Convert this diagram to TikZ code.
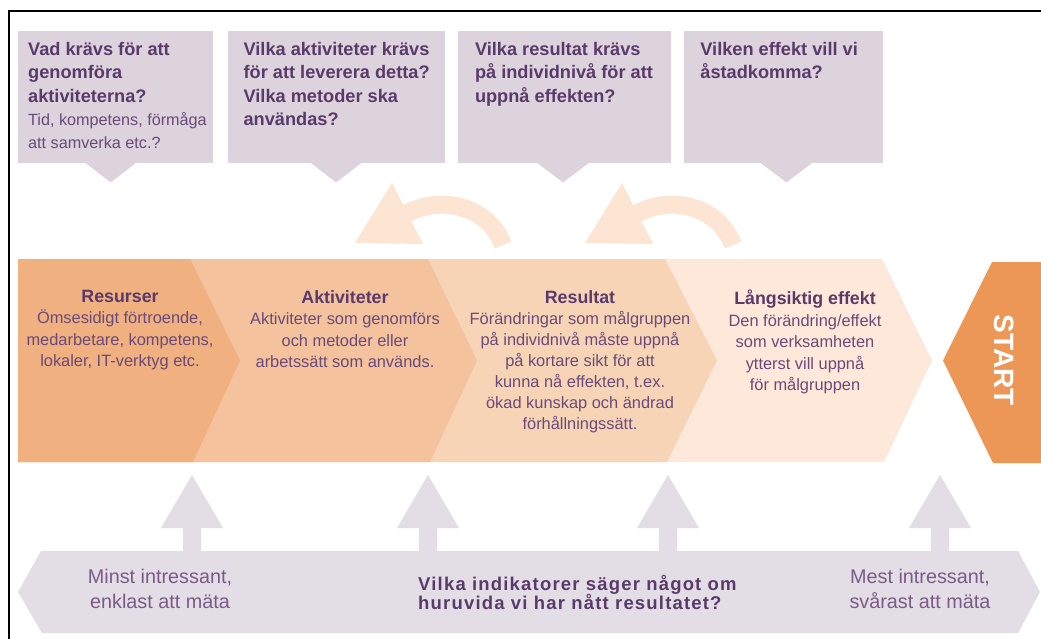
\documentclass[tikz,border=0pt]{standalone}
\usepackage{fontspec}
\setmainfont{Liberation Sans}
\newfontfamily\sparrad[LetterSpace=6.4]{Liberation Sans}
\usetikzlibrary{calc, positioning}
\definecolor{lila}{HTML}{DCD3DD}
\definecolor{lilaljus}{HTML}{E3DDE6}
\definecolor{plommon}{HTML}{5A3A6A}
\definecolor{plommonm}{HTML}{6A4A79}
\definecolor{plommonl}{HTML}{7C5A88}
\definecolor{oranger}{HTML}{ED9757}
\definecolor{steg1}{HTML}{F0B07F}
\definecolor{steg2}{HTML}{F4C29D}
\definecolor{steg3}{HTML}{F8D4B7}
\definecolor{steg4}{HTML}{FDE8DA}
\definecolor{bage}{HTML}{FCE5D2}
\newcommand{\rubrik}[1]{{\fontsize{17.8}{21.6}\selectfont\bfseries\color{plommon}#1}}

\begin{document}
\begin{tikzpicture}[x=1pt, y=-1pt,
        fraga/.style={fill=lila, minimum height=132, anchor=north west},
        fragtext/.style={anchor=north west, align=left, text=plommon, font=\fontsize{18.2}{23.4}\selectfont\bfseries},
        stegtext/.style={anchor=north, align=center, text=plommonm, font=\fontsize{16.4}{21.5}\selectfont},
        matttext/.style={anchor=north, align=center, text=plommonl, font=\fontsize{19.8}{25}\selectfont},
        uppil/.style={fill=lilaljus},
        returpil/.style={draw=bage, line width=18pt}]
    \tikzstyle{every node}=[inner sep=0pt]
    \useasboundingbox (0,0) rectangle (1041,639);
    \clip (0,0) rectangle (1041,639);
    \fill[white] (0,0) rectangle (1041,639);
    \draw[line width=2pt] (9,11) rectangle (1060,660);

    \node[fraga, minimum width=195] (fraga1) at (18,31) {};
    \node[fraga, minimum width=217, right=14pt of fraga1] (fraga2) {};
    \node[fraga, minimum width=213, right=13pt of fraga2] (fraga3) {};
    \node[fraga, minimum width=199, right=13pt of fraga3] (fraga4) {};
    \fill[lila] ($(fraga1.south)+(-31,-1)$) -- ++(52,0) -- ($(fraga1.south)+(-5,19)$) -- cycle;
    \fill[lila] ($(fraga2.south)+(-26,-1)$) -- ++(52,0) -- ($(fraga2.south)+(0,19)$) -- cycle;
    \fill[lila] ($(fraga3.south)+(-28,-1)$) -- ++(53,0) -- ($(fraga3.south)+(-1.5,19)$) -- cycle;
    \fill[lila] ($(fraga4.south)+(-24,-1)$) -- ++(53,0) -- ($(fraga4.south)+(2.5,19)$) -- cycle;
    \node[fragtext] (fragtext1) at ($(fraga1.north west)+(10,11)$) {Vad krävs för att\\genomföra\\aktiviteterna?\\{\fontsize{16.2}{23.4}\selectfont\mdseries\color{plommonm}Tid, kompetens, förmåga}\\{\fontsize{16.2}{23.4}\selectfont\mdseries\color{plommonm}att samverka etc.?}};
    \node[fragtext] (fragtext2) at ($(fraga2.north west)+(16,11)$) {Vilka aktiviteter krävs\\för att leverera detta?\\Vilka metoder ska\\användas?};
    \node[fragtext] (fragtext3) at ($(fraga3.north west)+(17,11)$) {Vilka resultat krävs\\på individnivå för att\\uppnå effekten?};
    \node[fragtext] (fragtext4) at ($(fraga4.north west)+(16,11)$) {Vilken effekt vill vi\\åstadkomma?};

    \fill[bage] (392,183) -- (355,243) -- (423,244) -- cycle;
    \draw[returpil] (503,245) .. controls (488,205) and (440,195) .. (406,214);
    \fill[bage] (622,183) -- (585,243) -- (653,244) -- cycle;
    \draw[returpil] (733,245) .. controls (718,205) and (670,195) .. (636,214);

    \fill[steg4] (18,259) -- (882,259) -- (932,360.5) -- (884,462) -- (18,462) -- cycle;
    \fill[steg3] (18,259) -- (665,259) -- (717,360.5) -- (667,462) -- (18,462) -- cycle;
    \fill[steg2] (18,259) -- (428,259) -- (477,360.5) -- (430,462) -- (18,462) -- cycle;
    \fill[steg1] (18,259) -- (190,259) -- (240,360.5) -- (193,462) -- (18,462) -- cycle;
    \node[stegtext] (resurser) at (120,290) {\rubrik{Resurser}\\Ömsesidigt förtroende,\\medarbetare, kompetens,\\lokaler, IT-verktyg etc.};
    \node[stegtext] (aktiviteter) at (345,290) {\rubrik{Aktiviteter}\\Aktiviteter som genomförs\\och metoder eller\\arbetssätt som används.};
    \node[stegtext, font=\fontsize{16.4}{21.1}\selectfont] (resultat) at (580,290) {\rubrik{Resultat}\\Förändringar som målgruppen\\på individnivå måste uppnå\\på kortare sikt för att\\kunna nå effekten, t.ex.\\ökad kunskap och ändrad\\förhållningssätt.};
    \node[stegtext] (effekt) at (805,290) {\rubrik{Långsiktig effekt}\\Den förändring/effekt\\som verksamheten\\ytterst vill uppnå\\för målgruppen};

    \fill[oranger] (943,360.5) -- (992,262) -- (1050,262) -- (1050,463) -- (993,463) -- cycle;
    \node[rotate=-90, text=white, font=\fontsize{28}{28}\selectfont\bfseries] (start) at (1004,360) {START};

    \fill[uppil] (192,475) -- ++(31,53) -- ++(-22,0) -- ++(0,24) -- ++(-18,0) -- ++(0,-24) -- ++(-22,0) -- cycle;
    \fill[uppil] (428,475) -- ++(31,53) -- ++(-22,0) -- ++(0,24) -- ++(-18,0) -- ++(0,-24) -- ++(-22,0) -- cycle;
    \fill[uppil] (668,475) -- ++(31,53) -- ++(-22,0) -- ++(0,24) -- ++(-18,0) -- ++(0,-24) -- ++(-22,0) -- cycle;
    \fill[uppil] (940,475) -- ++(31,53) -- ++(-22,0) -- ++(0,24) -- ++(-18,0) -- ++(0,-24) -- ++(-22,0) -- cycle;
    \fill[lilaljus] (18,592) -- (41,551) -- (1018,551) -- (1040,592) -- (1018,633) -- (42,633) -- cycle;
    \node[matttext] (minst) at (160,569) {Minst intressant,\\enklast att mäta};
    \node[anchor=north west, align=left, text=plommon, font=\fontsize{18.5}{19.4}\sparrad\bfseries] (indikatorer) at (418,575) {Vilka indikatorer säger något om\\huruvida vi har nått resultatet?};
    \node[matttext] (mest) at (920,569) {Mest intressant,\\svårast att mäta};
\end{tikzpicture}
\end{document}
